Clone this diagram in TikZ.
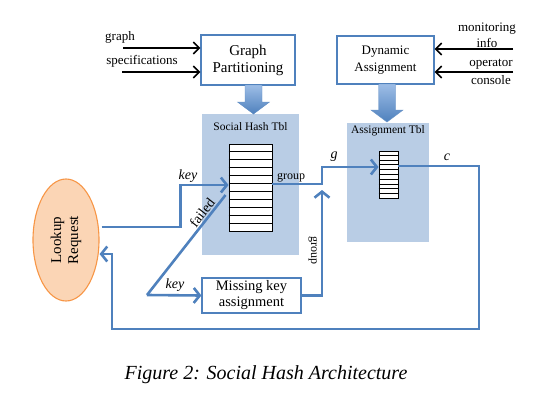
\documentclass[tikz,border=0pt]{standalone}
\usepackage{fontspec}
\setmainfont{Liberation Serif}
\usepackage{tikz}
\usetikzlibrary{arrows.meta,calc,shapes.geometric}
\definecolor{flow}{HTML}{4F81BD}
\definecolor{pane}{HTML}{B9CDE5}
\definecolor{barrow}{HTML}{9DBDE6}
\definecolor{lkfill}{HTML}{FBD5B5}
\definecolor{lkdraw}{HTML}{F79646}
\tikzset{
  box/.style={draw=flow,line width=1.1pt,fill=white,align=center,inner sep=0pt},
  panebox/.style={fill=pane,inner sep=0pt},
  tblbox/.style={draw=black,line width=0.9pt,fill=white,inner sep=0pt},
  flowline/.style={flow,line width=2.6pt},
  fin/.style={-{Straight Barb[length=6pt,width=15pt]}},
  inarrow/.style={line width=1.6pt,-{Straight Barb[length=6pt,width=12pt]}},
  lbl/.style={font=\fontsize{13}{15}\selectfont},
  ilbl/.style={font=\fontsize{14}{16}\selectfont\itshape},
}
% fat shaded arrow: x, top, head start, tip
\newcommand{\fatarrow}[4]{%
  \shade[top color=barrow,bottom color=flow,draw=flow!90,thin]
    (#1-8.5,#2) -- (#1+8.5,#2) -- (#1+8.5,#3) -- (#1+16,#3) -- (#1,#4)
    -- (#1-16,#3) -- (#1-8.5,#3) -- cycle;
}
% row lines inside a table node
\newcommand{\tblrows}[2]{%
  \foreach \i in {1,...,#2}
    \draw[line width=0.9pt] ($(#1.north west)!\i/(#2+1)!(#1.south west)$)
      -- ($(#1.north east)!\i/(#2+1)!(#1.south east)$);
}

\begin{document}
\begin{tikzpicture}[x=1pt,y=-1pt]
\useasboundingbox (0,0) rectangle (555,408);

% panels
\node[panebox,minimum width=97pt,minimum height=141pt] (shpane) at (250.5,184.5) {};
\node[font=\fontsize{11.5}{13}\selectfont] (shlabel) at (250.5,127) {Social Hash Tbl};
\node[panebox,minimum width=82pt,minimum height=119pt] (aspane) at (388,182.5) {};
\node[font=\fontsize{11.5}{13}\selectfont] (aslabel) at (388,131) {Assignment Tbl};

% tables
\node[tblbox,minimum width=43pt,minimum height=87pt] (shtab) at (250.5,187.5) {};
\tblrows{shtab}{10}
\node[tblbox,minimum width=19pt,minimum height=47pt] (astab) at (388.5,174.5) {};
\tblrows{astab}{9}

% boxes
\node[box,minimum width=94pt,minimum height=50pt,font=\fontsize{15}{17}\selectfont] (gp) at (248,60) {Graph\\Partitioning};
\node[box,minimum width=97pt,minimum height=48pt,font=\fontsize{13}{17}\selectfont] (da) at (385.5,60) {Dynamic\\Assignment};
\node[box,minimum width=99pt,minimum height=35pt,font=\fontsize{14.5}{16}\selectfont] (mk) at (251.5,295.5) {Missing key\\assignment};
\node[ellipse,draw=lkdraw,fill=lkfill,line width=1.1pt,minimum width=66pt,minimum height=122pt,inner sep=0pt] (lookup) at (66,240) {};
\node[rotate=90,align=center,font=\fontsize{15}{17}\selectfont] (lktext) at (lookup) {Lookup\\Request};

\fatarrow{253.5}{85}{102}{114}
\fatarrow{387}{84}{110}{122}

% inputs
\coordinate (gin) at (123,48);
\coordinate (sin) at (122,72);
\coordinate (min) at (513,49);
\coordinate (oin) at (513,72);
\draw[inarrow] (gin) -- (gp.west |- gin);
\draw[inarrow] (sin) -- (gp.west |- sin);
\draw[inarrow] (min) -- (da.east |- min);
\draw[inarrow] (oin) -- (da.east |- oin);
\node[lbl] (graphlbl) at (120,37) {graph};
\node[lbl] (speclbl) at (142,61) {specifications};
\node[lbl] (monlbl) at (487,29) {monitoring};
\node[lbl] (infolbl) at (487,43) {info};
\node[lbl] (oplbl) at (491,64) {operator};
\node[lbl] (conlbl) at (491,80) {console};

% flows
\coordinate (jn) at (322,184);
\coordinate (fk) at (147,295);
\coordinate (ret) at (479,329);
\draw[flowline,fin] ([shift={(2,-13)}]lookup.east) -- ++(79,0) |- ($(shtab.west)+(0,-2.5)$);
\draw[flowline,fin] ($(shtab.east)+(0,-3.5)$) -- (jn) |- ($(astab.west)+(0,-7.5)$);
\draw[flowline,fin] (mk.east) -| ([shift={(0,6)}]jn);
\draw[flowline,fin] ($(astab.east)+(0,-8.5)$) -| (ret) -| (112,254) -- ($(lookup.east)+(0,14)$);
\draw[flowline] (fk) -- ($(shtab.west)+(-3,7.5)$);
\draw[flowline,fin] (fk) -- (mk.west);

\node[ilbl] (key1) at (188,176) {key};
\node[ilbl] (key2) at (175,285) {key};
\node[font=\fontsize{14}{16}\selectfont,rotate=52] (failed) at (202,213) {failed};
\node[font=\fontsize{12}{14}\selectfont] (grp1) at (291,178) {group};
\node[font=\fontsize{12}{14}\selectfont,rotate=-90] (grp2) at (313,250) {group};
\node[ilbl] (glbl) at (334,157) {g};
\node[ilbl] (clbl) at (447,157) {c};

\node[font=\fontsize{20}{24}\selectfont\itshape] (caption) at (266,375) {Figure 2: Social Hash Architecture};
\end{tikzpicture}
\end{document}
